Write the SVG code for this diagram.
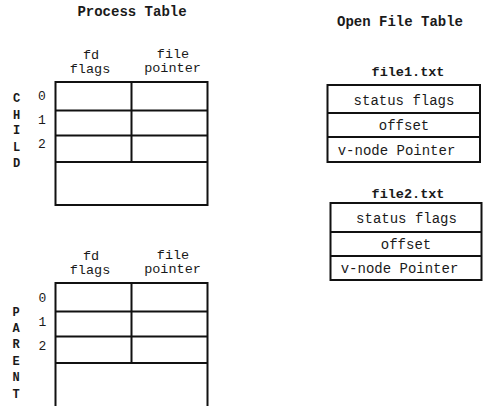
<svg xmlns="http://www.w3.org/2000/svg" width="483" height="406" viewBox="0 0 483 406">
  <style>
    text { font-family: "Liberation Mono", "Courier New", monospace; fill: #1a1a1a; }
    .title { font-size: 14px; font-weight: bold; text-anchor: middle; }
    .hdr { font-size: 13.5px; text-anchor: middle; }
    .idx { font-size: 13px; text-anchor: middle; }
    .side { font-size: 12px; font-weight: bold; text-anchor: middle; }
    .cell { font-size: 14px; text-anchor: middle; }
    .box { fill: #fff; stroke: #111; stroke-width: 2; }
    .rule { stroke: #111; stroke-width: 2; fill: none; }
  </style>
  <rect width="483" height="406" fill="#fff"/>

  <text class="title" x="132" y="15.5">Process Table</text>
  <text class="title" x="400" y="26">Open File Table</text>

  <!-- child process descriptor table -->
  <g id="child-table">
    <text class="hdr" x="91" y="59">fd</text>
    <text class="hdr" x="90" y="73">flags</text>
    <text class="hdr" x="173" y="57.5">file</text>
    <text class="hdr" x="172.5" y="72">pointer</text>
    <rect class="box" x="55.5" y="82" width="152" height="123"/>
    <path class="rule" d="M55.5 110.5H207.5M55.5 135.5H207.5M55.5 162H207.5M131.5 82V162"/>
    <text class="idx" x="42" y="100">0</text>
    <text class="idx" x="42" y="124">1</text>
    <text class="idx" x="42" y="148">2</text>
    <text class="side" x="16.5" y="102">C</text>
    <text class="side" x="16.5" y="118.5">H</text>
    <text class="side" x="16.5" y="134">I</text>
    <text class="side" x="16.5" y="150.5">L</text>
    <text class="side" x="16.5" y="167">D</text>
  </g>

  <!-- parent process descriptor table -->
  <g id="parent-table">
    <text class="hdr" x="91" y="260">fd</text>
    <text class="hdr" x="90" y="274">flags</text>
    <text class="hdr" x="173" y="258.5">file</text>
    <text class="hdr" x="172.5" y="273">pointer</text>
    <rect class="box" x="55.5" y="283" width="152" height="135"/>
    <path class="rule" d="M55.5 311.5H207.5M55.5 336.5H207.5M55.5 363H207.5M131.5 283V363"/>
    <text class="idx" x="42.5" y="302">0</text>
    <text class="idx" x="42.5" y="326">1</text>
    <text class="idx" x="42.5" y="350">2</text>
    <text class="side" x="16" y="315.5">P</text>
    <text class="side" x="16" y="331.5">A</text>
    <text class="side" x="16" y="348">R</text>
    <text class="side" x="16" y="365">E</text>
    <text class="side" x="16" y="381">N</text>
    <text class="side" x="16" y="397.5">T</text>
  </g>

  <!-- open file table entries -->
  <g id="file1">
    <text class="title" x="408" y="76" style="font-size:13.5px">file1.txt</text>
    <rect class="box" x="327.5" y="85" width="152.5" height="77"/>
    <path class="rule" d="M327.5 113H480M327.5 137H480"/>
    <text class="cell" x="404" y="104.5">status flags</text>
    <text class="cell" x="404" y="130">offset</text>
    <text class="cell" x="396.5" y="154.5">v-node Pointer</text>
  </g>

  <g id="file2">
    <text class="title" x="408" y="198" style="font-size:13.5px">file2.txt</text>
    <rect class="box" x="330.5" y="203" width="151" height="77"/>
    <path class="rule" d="M330.5 232H481.5M330.5 256H481.5"/>
    <text class="cell" x="406.5" y="223">status flags</text>
    <text class="cell" x="406" y="248.5">offset</text>
    <text class="cell" x="399.5" y="273">v-node Pointer</text>
  </g>
</svg>
